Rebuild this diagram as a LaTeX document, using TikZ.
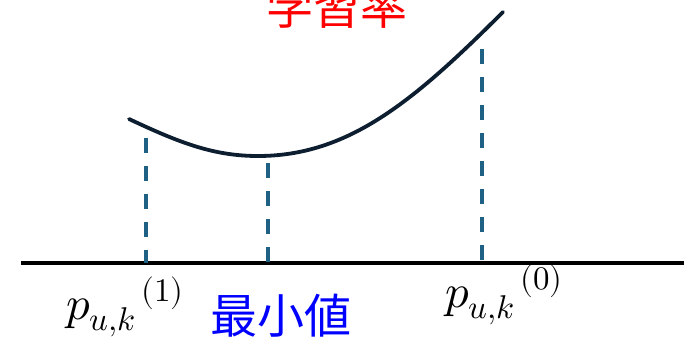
\documentclass[tikz,border=0pt]{standalone}
\usepackage{fontspec}
\usepackage{unicode-math}
\setmathfont{Latin Modern Math}
\newfontfamily\cjk{Noto Sans CJK JP}
\definecolor{curvecol}{RGB}{12,30,48}
\definecolor{dashcol}{RGB}{31,96,133}
\definecolor{redtxt}{RGB}{255,0,0}
\definecolor{bluetxt}{RGB}{0,0,255}
\tikzset{
  axisline/.style={line width=3.5pt, black},
  guide/.style={line width=3.2pt, dashcol, dash pattern=on 15pt off 13pt},
  lrcurve/.style={line width=3.8pt, curvecol},
  cjklabel/.style={inner sep=0pt, font=\cjk\fontsize{47}{50}\selectfont},
  mathlabel/.style={inner sep=0pt, anchor=base west, font=\fontsize{47}{52}\selectfont},
}
\begin{document}
\begin{tikzpicture}[x=1pt,y=1pt]
\useasboundingbox (0,0) rectangle (685,338);
% axis
\coordinate (axL) at (21,75);
\coordinate (axR) at (684,75);
\draw[axisline] (axL) -- (axR);
% curve
\coordinate (cS) at (129,219);
\coordinate (cM) at (258,182);
\coordinate (cE) at (503,326);
\draw[lrcurve, line cap=round] (cS) .. controls (179,195.5) and (213,182) .. (cM)
  .. controls (348,182) and (413,236) .. (cE);
% guides
\coordinate (g1t) at (146,200);
\coordinate (g1b) at (146,75);
\coordinate (g2t) at (268,175);
\coordinate (g2b) at (268,75);
\coordinate (g3t) at (482,289);
\coordinate (g3b) at (482,75);
\draw[guide] (g1t) -- (g1b);
\draw[guide] (g2t) -- (g2b);
\draw[guide] (g3t) -- (g3b);
% labels
\node[cjklabel, text=redtxt] (lr) at (337,331) {学習率};
\node[cjklabel, text=bluetxt] (mn) at (281,22) {最小値};
\node[mathlabel] (p1) at (66,19) {${p_{u,k}}^{\,(1)}$};
\node[mathlabel] (p0) at (445,31) {${p_{u,k}}^{\,(0)}$};
\end{tikzpicture}
\end{document}
